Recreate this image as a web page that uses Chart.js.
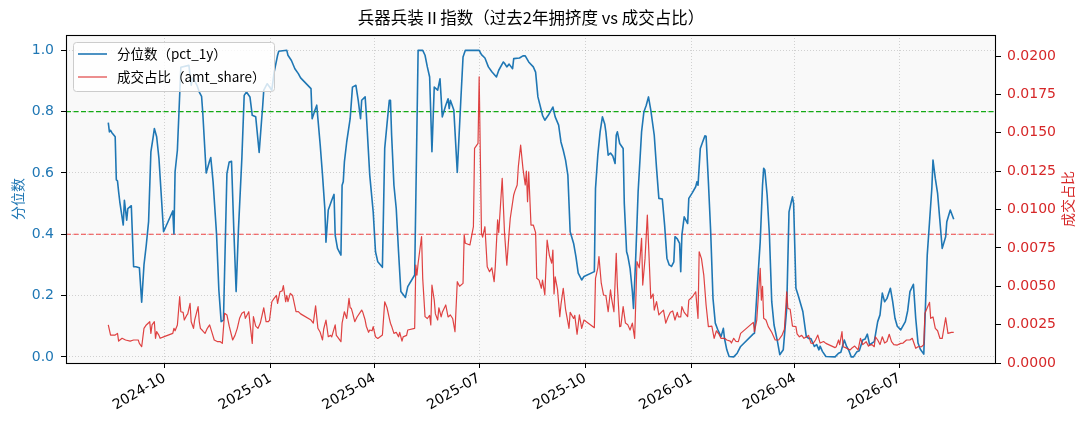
<!DOCTYPE html>
<html><head><meta charset="utf-8">
<script src="https://cdn.jsdelivr.net/npm/chart.js@4.4.1/dist/chart.umd.min.js"></script>
<style>html,body{margin:0;padding:0;background:#fff}#wrap{width:1089px;height:429px}</style>
</head><body><div id="wrap"><canvas id="c" width="1089" height="429"></canvas></div>
<script>
const chartTitle = '兵器兵装Ⅱ指数（过去2年拥挤度 vs 成交占比）';
const pctLabel = '分位数（pct_1y）';
const amtLabel = '成交占比（amt_share）';
const leftAxisTitle = '分位数';
const rightAxisTitle = '成交占比';
const xTickLabels = ['2024-10','2025-01','2025-04','2025-07','2025-10','2026-01','2026-04','2026-07'];
const leftTicks = [0, 0.2, 0.4, 0.6, 0.8, 1.0];
const rightTicks = [0, 0.0025, 0.005, 0.0075, 0.01, 0.0125, 0.015, 0.0175, 0.02];
const thresholdHigh = 0.8;
const thresholdLow = 0.4;

const pctDates = [
'2024-08-13','2024-08-14','2024-08-15','2024-08-16','2024-08-19','2024-08-20','2024-08-21','2024-08-22','2024-08-23','2024-08-26',
'2024-08-27','2024-08-29','2024-08-30','2024-09-02','2024-09-04','2024-09-06','2024-09-09','2024-09-11','2024-09-13','2024-09-15',
'2024-09-17','2024-09-19','2024-09-21','2024-09-22','2024-09-24','2024-09-26','2024-09-30','2024-10-08','2024-10-09','2024-10-10',
'2024-10-12','2024-10-15','2024-10-22','2024-10-24','2024-10-25','2024-10-27','2024-10-29','2024-10-31','2024-11-02','2024-11-03',
'2024-11-06','2024-11-09','2024-11-10','2024-11-12','2024-11-15','2024-11-17','2024-11-19','2024-11-21','2024-11-24','2024-11-26',
'2024-11-28','2024-11-30','2024-12-02','2024-12-04','2024-12-07','2024-12-09','2024-12-11','2024-12-14','2024-12-16','2024-12-19',
'2024-12-22','2024-12-24','2024-12-25','2024-12-26','2024-12-29','2024-12-30','2025-01-02','2025-01-04','2025-01-07','2025-01-08',
'2025-01-15','2025-01-16','2025-01-19','2025-01-22','2025-01-25','2025-01-27','2025-02-05','2025-02-06','2025-02-08','2025-02-10',
'2025-02-11','2025-02-13','2025-02-15','2025-02-17','2025-02-18','2025-02-20','2025-02-23','2025-02-25','2025-02-26','2025-02-28',
'2025-03-03','2025-03-04','2025-03-05','2025-03-06','2025-03-08','2025-03-11','2025-03-13','2025-03-16','2025-03-18','2025-03-20',
'2025-03-21','2025-03-24','2025-03-25','2025-03-28','2025-03-31','2025-04-02','2025-04-04','2025-04-08','2025-04-10','2025-04-12',
'2025-04-14','2025-04-15','2025-04-16','2025-04-18','2025-04-20','2025-04-22','2025-04-24','2025-04-28','2025-04-30','2025-05-06',
'2025-05-09','2025-05-13','2025-05-15','2025-05-17','2025-05-19','2025-05-21','2025-05-23','2025-05-26','2025-05-28','2025-05-30',
'2025-06-02','2025-06-04','2025-06-05','2025-06-06','2025-06-09','2025-06-12','2025-06-15','2025-06-17','2025-06-19','2025-07-01',
'2025-07-03','2025-07-06','2025-07-09','2025-07-12','2025-07-16','2025-07-18','2025-07-22','2025-07-23','2025-07-25','2025-07-27',
'2025-07-30','2025-07-31','2025-08-05','2025-08-08','2025-08-10','2025-08-13','2025-08-17','2025-08-19','2025-08-21','2025-08-25',
'2025-08-27','2025-08-30','2025-09-03','2025-09-05','2025-09-08','2025-09-10','2025-09-12','2025-09-14','2025-09-16','2025-09-18',
'2025-09-21','2025-09-23','2025-09-25','2025-09-28','2025-09-30','2025-10-09','2025-10-10','2025-10-12','2025-10-14','2025-10-16',
'2025-10-18','2025-10-19','2025-10-21','2025-10-23','2025-10-25','2025-10-27','2025-10-28','2025-10-29','2025-10-31','2025-11-03',
'2025-11-04','2025-11-06','2025-11-07','2025-11-09','2025-11-11','2025-11-12','2025-11-14','2025-11-16','2025-11-19','2025-11-21',
'2025-11-23','2025-11-25','2025-11-27','2025-11-30','2025-12-02','2025-12-04','2025-12-07','2025-12-09','2025-12-11','2025-12-13',
'2025-12-15','2025-12-17','2025-12-18','2025-12-20','2025-12-22','2025-12-23','2025-12-24','2025-12-26','2025-12-29','2025-12-30',
'2026-01-02','2026-01-05','2026-01-06','2026-01-07','2026-01-09','2026-01-11','2026-01-13','2026-01-14','2026-01-16','2026-01-18',
'2026-01-20','2026-01-22','2026-01-24','2026-01-27','2026-01-29','2026-01-30','2026-02-01','2026-02-03','2026-02-07','2026-02-10',
'2026-02-13','2026-02-24','2026-02-25','2026-02-27','2026-03-02','2026-03-04','2026-03-05','2026-03-06','2026-03-08','2026-03-10',
'2026-03-12','2026-03-14','2026-03-17','2026-03-19','2026-03-22','2026-03-25','2026-03-27','2026-03-29','2026-03-30','2026-03-31',
'2026-04-02','2026-04-04','2026-04-08','2026-04-11','2026-04-13','2026-04-15','2026-04-18','2026-04-20','2026-04-22','2026-04-23',
'2026-04-25','2026-04-28','2026-05-06','2026-05-09','2026-05-11','2026-05-14','2026-05-16','2026-05-18','2026-05-20','2026-05-22',
'2026-05-25','2026-05-27','2026-05-30','2026-06-01','2026-06-03','2026-06-05','2026-06-07','2026-06-09','2026-06-12','2026-06-14',
'2026-06-16','2026-06-18','2026-06-20','2026-06-23','2026-06-25','2026-06-27','2026-06-29','2026-07-02','2026-07-06','2026-07-08',
'2026-07-10','2026-07-13','2026-07-15','2026-07-17','2026-07-19','2026-07-22','2026-07-25','2026-07-27','2026-07-29','2026-07-30',
'2026-08-01','2026-08-03','2026-08-07','2026-08-10','2026-08-11','2026-08-14','2026-08-17'
];
const pctValues = [
0.764,0.734,0.739,0.732,0.718,0.577,0.574,0.538,0.506,0.430,
0.511,0.446,0.484,0.493,0.294,0.294,0.291,0.178,0.300,0.365,
0.441,0.669,0.718,0.745,0.718,0.647,0.408,0.476,0.401,0.604,
0.674,0.945,0.951,0.886,0.910,0.900,0.886,0.864,0.850,0.799,
0.600,0.640,0.650,0.571,0.400,0.218,0.115,0.120,0.598,0.636,
0.638,0.414,0.213,0.414,0.650,0.853,0.864,0.848,0.788,0.783,
0.667,0.767,0.815,0.870,0.891,0.886,0.870,0.929,0.984,0.997,
1.000,0.984,0.967,0.940,0.924,0.910,0.875,0.777,0.800,0.821,
0.777,0.691,0.593,0.484,0.374,0.479,0.511,0.530,0.397,0.354,
0.332,0.560,0.571,0.636,0.701,0.777,0.880,0.886,0.837,0.777,
0.837,0.848,0.794,0.593,0.473,0.343,0.310,0.292,0.680,0.760,
0.837,0.837,0.723,0.560,0.484,0.343,0.213,0.194,0.229,0.267,
1.000,1.000,0.984,0.946,0.913,0.669,0.880,0.870,0.907,0.783,
0.821,0.842,0.810,0.837,0.805,0.602,0.832,0.978,1.000,1.000,
0.986,0.975,0.946,0.930,0.913,0.935,0.962,0.958,0.946,0.955,
0.940,0.973,0.975,0.982,0.982,0.962,0.946,0.929,0.848,0.788,
0.772,0.788,0.815,0.783,0.756,0.701,0.674,0.642,0.593,0.408,
0.370,0.327,0.273,0.251,0.262,0.278,0.549,0.658,0.734,0.783,
0.760,0.734,0.658,0.665,0.655,0.631,0.723,0.734,0.696,0.680,
0.500,0.343,0.330,0.289,0.213,0.158,0.332,0.538,0.734,0.799,
0.820,0.848,0.805,0.723,0.615,0.517,0.515,0.430,0.322,0.300,
0.295,0.310,0.392,0.385,0.370,0.278,0.397,0.457,0.435,0.517,
0.535,0.555,0.571,0.560,0.680,0.701,0.721,0.720,0.571,0.408,
0.191,0.110,0.090,0.066,0.093,0.060,0.023,0.001,0.000,0.012,
0.034,0.075,0.077,0.200,0.376,0.560,0.615,0.610,0.528,0.397,
0.180,0.104,0.050,0.007,0.023,0.158,0.473,0.506,0.522,0.500,
0.224,0.200,0.148,0.066,0.060,0.060,0.034,0.040,0.023,0.035,
0.018,0.001,0.000,0.012,0.015,0.055,0.034,0.020,0.000,0.000,
0.017,0.020,0.055,0.058,0.074,0.039,0.045,0.050,0.115,0.137,
0.208,0.180,0.190,0.224,0.180,0.126,0.100,0.088,0.115,0.150,
0.213,0.237,0.126,0.045,0.025,0.009,0.332,0.441,0.550,0.642,
0.582,0.533,0.354,0.392,0.441,0.479,0.449
];

const amtDates = [
'2024-08-13','2024-08-15','2024-08-19','2024-08-21','2024-08-22','2024-08-25','2024-08-28','2024-09-01','2024-09-04','2024-09-08',
'2024-09-09','2024-09-11','2024-09-13','2024-09-15','2024-09-18','2024-09-19','2024-09-20','2024-09-22','2024-09-23','2024-09-24',
'2024-09-26','2024-09-27','2024-09-30','2024-10-08','2024-10-09','2024-10-10','2024-10-12','2024-10-14','2024-10-15','2024-10-17',
'2024-10-18','2024-10-20','2024-10-21','2024-10-23','2024-10-24','2024-10-26','2024-10-27','2024-10-30','2024-10-31','2024-11-01',
'2024-11-03','2024-11-05','2024-11-07','2024-11-09','2024-11-11','2024-11-13','2024-11-16','2024-11-18','2024-11-20','2024-11-22',
'2024-11-24','2024-11-26','2024-11-29','2024-12-01','2024-12-03','2024-12-05','2024-12-07','2024-12-09','2024-12-10','2024-12-13',
'2024-12-14','2024-12-16','2024-12-17','2024-12-19','2024-12-21','2024-12-23','2024-12-26','2024-12-28','2024-12-30','2024-12-31',
'2025-01-02','2025-01-04','2025-01-06','2025-01-07','2025-01-09','2025-01-11','2025-01-12','2025-01-14','2025-01-15','2025-01-16',
'2025-01-18','2025-01-20','2025-01-23','2025-01-25','2025-01-27','2025-02-05','2025-02-07','2025-02-09','2025-02-11','2025-02-13',
'2025-02-15','2025-02-16','2025-02-18','2025-02-20','2025-02-22','2025-02-23','2025-02-26','2025-02-27','2025-02-28','2025-03-03',
'2025-03-04','2025-03-06','2025-03-08','2025-03-10','2025-03-11','2025-03-12','2025-03-13','2025-03-15','2025-03-17','2025-03-21',
'2025-03-22','2025-03-24','2025-03-25','2025-03-27','2025-03-28','2025-03-30','2025-03-31','2025-04-02','2025-04-04','2025-04-08',
'2025-04-10','2025-04-12','2025-04-14','2025-04-15','2025-04-16','2025-04-18','2025-04-20','2025-04-22','2025-04-23','2025-04-25',
'2025-04-26','2025-04-29','2025-04-30','2025-05-06','2025-05-07','2025-05-08','2025-05-09','2025-05-12','2025-05-13','2025-05-15',
'2025-05-17','2025-05-19','2025-05-20','2025-05-21','2025-05-23','2025-05-24','2025-05-26','2025-05-27','2025-05-29','2025-05-30',
'2025-06-02','2025-06-04','2025-06-06','2025-06-08','2025-06-10','2025-06-12','2025-06-14','2025-06-17','2025-06-18','2025-06-19',
'2025-06-23','2025-06-26','2025-06-27','2025-06-30','2025-07-01','2025-07-03','2025-07-04','2025-07-06','2025-07-08','2025-07-10',
'2025-07-12','2025-07-14','2025-07-15','2025-07-17','2025-07-18','2025-07-21','2025-07-23','2025-07-25','2025-07-27','2025-07-28',
'2025-07-31','2025-08-01','2025-08-03','2025-08-04','2025-08-06','2025-08-08','2025-08-10','2025-08-11','2025-08-12','2025-08-13',
'2025-08-15','2025-08-17','2025-08-19','2025-08-20','2025-08-22','2025-08-24','2025-08-25','2025-08-27','2025-08-29','2025-08-31',
'2025-09-02','2025-09-03','2025-09-04','2025-09-05','2025-09-07','2025-09-09','2025-09-10','2025-09-12','2025-09-14','2025-09-17',
'2025-09-18','2025-09-21','2025-09-22','2025-09-24','2025-09-26','2025-09-28','2025-09-30','2025-10-09','2025-10-10','2025-10-12',
'2025-10-13','2025-10-15','2025-10-17','2025-10-19','2025-10-21','2025-10-23','2025-10-24','2025-10-26','2025-10-28','2025-10-29',
'2025-10-31','2025-11-01','2025-11-03','2025-11-05','2025-11-07','2025-11-09','2025-11-11','2025-11-13','2025-11-15','2025-11-17',
'2025-11-19','2025-11-20','2025-11-22','2025-11-24','2025-11-25','2025-11-27','2025-11-29','2025-11-30','2025-12-02','2025-12-04',
'2025-12-06','2025-12-08','2025-12-10','2025-12-12','2025-12-14','2025-12-16','2025-12-18','2025-12-20','2025-12-21','2025-12-23',
'2025-12-24','2025-12-26','2025-12-29','2025-12-30','2026-01-02','2026-01-05','2026-01-07','2026-01-08','2026-01-10','2026-01-12',
'2026-01-14','2026-01-16','2026-01-19','2026-01-21','2026-01-23','2026-01-25','2026-01-27','2026-01-30','2026-02-01','2026-02-04',
'2026-02-05','2026-02-07','2026-02-09','2026-02-11','2026-02-13','2026-02-24','2026-02-25','2026-02-27','2026-03-02','2026-03-03',
'2026-03-04','2026-03-05','2026-03-07','2026-03-09','2026-03-12','2026-03-15','2026-03-18','2026-03-21','2026-03-23','2026-03-25',
'2026-03-26','2026-03-28','2026-03-30','2026-04-02','2026-04-03','2026-04-05','2026-04-07','2026-04-09','2026-04-11','2026-04-13',
'2026-04-15','2026-04-17','2026-04-19','2026-04-21','2026-04-23','2026-04-26','2026-04-28','2026-05-06','2026-05-07','2026-05-09',
'2026-05-10','2026-05-12','2026-05-13','2026-05-15','2026-05-19','2026-05-21','2026-05-23','2026-05-26','2026-05-28','2026-05-30',
'2026-06-02','2026-06-04','2026-06-05','2026-06-07','2026-06-09','2026-06-10','2026-06-12','2026-06-14','2026-06-16','2026-06-18',
'2026-06-20','2026-06-22','2026-06-24','2026-06-26','2026-06-29','2026-07-02','2026-07-04','2026-07-07','2026-07-10','2026-07-12',
'2026-07-15','2026-07-17','2026-07-20','2026-07-22','2026-07-23','2026-07-25','2026-07-27','2026-07-28','2026-07-30','2026-08-01',
'2026-08-03','2026-08-05','2026-08-07','2026-08-10','2026-08-12','2026-08-15','2026-08-17'
];
const amtValues = [
0.00248,0.00182,0.00182,0.00193,0.00143,0.00161,0.00150,0.00143,0.00150,0.00150,
0.00128,0.00106,0.00226,0.00248,0.00269,0.00193,0.00248,0.00269,0.00161,0.00204,
0.00180,0.00161,0.00170,0.00193,0.00226,0.00210,0.00248,0.00432,0.00334,0.00330,
0.00280,0.00310,0.00320,0.00389,0.00269,0.00226,0.00280,0.00367,0.00270,0.00226,
0.00210,0.00193,0.00226,0.00248,0.00200,0.00150,0.00139,0.00140,0.00128,0.00324,
0.00313,0.00240,0.00150,0.00180,0.00226,0.00291,0.00324,0.00334,0.00291,0.00334,
0.00260,0.00128,0.00302,0.00240,0.00226,0.00260,0.00360,0.00269,0.00270,0.00280,
0.00399,0.00421,0.00440,0.00389,0.00464,0.00470,0.00504,0.00399,0.00440,0.00400,
0.00454,0.00440,0.00334,0.00335,0.00320,0.00280,0.00260,0.00373,0.00226,0.00200,
0.00150,0.00220,0.00280,0.00171,0.00180,0.00170,0.00248,0.00180,0.00170,0.00139,
0.00260,0.00334,0.00290,0.00421,0.00360,0.00356,0.00330,0.00269,0.00300,0.00345,
0.00330,0.00280,0.00240,0.00200,0.00215,0.00210,0.00237,0.00171,0.00160,0.00182,
0.00399,0.00360,0.00291,0.00259,0.00240,0.00193,0.00200,0.00171,0.00200,0.00143,
0.00170,0.00180,0.00215,0.00226,0.00638,0.00573,0.00650,0.00823,0.00550,0.00302,
0.00290,0.00310,0.00248,0.00508,0.00410,0.00320,0.00280,0.00360,0.00300,0.00330,
0.00378,0.00300,0.00313,0.00290,0.00204,0.00530,0.00500,0.00519,0.00834,0.00780,
0.00769,0.00888,0.01399,0.01431,0.01865,0.00845,0.00820,0.00888,0.00627,0.00595,
0.00620,0.00530,0.00630,0.00932,0.00850,0.01203,0.00850,0.00638,0.00850,0.00943,
0.01095,0.01120,0.01160,0.01279,0.01420,0.01268,0.01160,0.01250,0.01051,0.01246,
0.00899,0.00899,0.00850,0.00552,0.00540,0.00487,0.00540,0.00443,0.00801,0.00700,
0.00650,0.00736,0.00450,0.00562,0.00480,0.00302,0.00380,0.00487,0.00350,0.00226,
0.00330,0.00290,0.00310,0.00187,0.00313,0.00226,0.00280,0.00230,0.00552,0.00620,
0.00693,0.00520,0.00443,0.00440,0.00334,0.00476,0.00420,0.00334,0.00715,0.00500,
0.00237,0.00240,0.00367,0.00260,0.00250,0.00215,0.00260,0.00161,0.00660,0.00620,
0.00812,0.00508,0.00680,0.00964,0.00780,0.00421,0.00450,0.00345,0.00400,0.00313,
0.00330,0.00345,0.00260,0.00300,0.00330,0.00339,0.00280,0.00330,0.00300,0.00300,
0.00367,0.00330,0.00302,0.00410,0.00430,0.00464,0.00291,0.00725,0.00680,0.00573,
0.00378,0.00237,0.00240,0.00161,0.00210,0.00190,0.00160,0.00161,0.00150,0.00143,
0.00130,0.00161,0.00140,0.00139,0.00193,0.00265,0.00204,0.00280,0.00617,0.00410,
0.00500,0.00291,0.00280,0.00237,0.00200,0.00150,0.00150,0.00182,0.00220,0.00464,
0.00356,0.00350,0.00240,0.00237,0.00190,0.00171,0.00180,0.00161,0.00170,0.00180,
0.00130,0.00128,0.00150,0.00182,0.00130,0.00140,0.00128,0.00100,0.00106,0.00150,
0.00120,0.00204,0.00106,0.00100,0.00085,0.00100,0.00110,0.00085,0.00161,0.00120,
0.00139,0.00110,0.00117,0.00120,0.00106,0.00171,0.00150,0.00120,0.00171,0.00130,
0.00140,0.00187,0.00139,0.00120,0.00117,0.00128,0.00130,0.00150,0.00150,0.00161,
0.00096,0.00106,0.00106,0.00120,0.00324,0.00360,0.00395,0.00291,0.00300,0.00226,
0.00210,0.00161,0.00160,0.00295,0.00193,0.00200,0.00200
];

const DAY = 86400000;
const toDay = s => Date.UTC(+s.slice(0,4), +s.slice(5,7) - 1, +s.slice(8,10)) / DAY;
const firstDay = Math.min(toDay(pctDates[0]), toDay(amtDates[0]));
const lastDay = Math.max(toDay(pctDates[pctDates.length-1]), toDay(amtDates[amtDates.length-1]));
const span = lastDay - firstDay;
const xMin = firstDay - 0.05 * span, xMax = lastDay + 0.05 * span;
const xTickVals = xTickLabels.map(l => toDay(l + '-01'));
const amtMax = Math.max(...amtValues);

const pctPoints = pctDates.map((d, i) => ({x: toDay(d), y: pctValues[i]}));
const amtPoints = amtDates.map((d, i) => ({x: toDay(d), y: amtValues[i]}));

const BLUE = '#1f77b4', RED = '#d62728';
const tickFont = {family: 'DejaVu Sans', size: 14};
const CJK = '"Noto Sans CJK SC", "Noto Sans", sans-serif';
const gridColor = 'rgba(0,0,0,0.16)';

const decor = {
  id: 'decor',
  beforeDraw(chart) {
    const {ctx, chartArea: a} = chart;
    ctx.save();
    ctx.fillStyle = '#f9f9f9';
    ctx.fillRect(a.left, a.top, a.right - a.left, a.bottom - a.top);
    ctx.restore();
  },
  afterDraw(chart) {
    const {ctx, chartArea: a} = chart;
    ctx.save();
    ctx.strokeStyle = '#000'; ctx.lineWidth = 1.1;
    ctx.strokeRect(Math.round(a.left) + 0.5, Math.round(a.top) + 0.5, Math.round(a.right - a.left) - 1, Math.round(a.bottom - a.top));
    ctx.fillStyle = '#000';
    ctx.font = '16.5px ' + CJK;
    ctx.textAlign = 'center'; ctx.textBaseline = 'middle';
    ctx.fillText(chartTitle, (a.left + a.right) / 2, 18);
    const midY = (a.top + a.bottom) / 2;
    ctx.font = '14px ' + CJK;
    ctx.save(); ctx.translate(18, midY); ctx.rotate(-Math.PI / 2);
    ctx.fillStyle = BLUE; ctx.fillText(leftAxisTitle, 0, 0); ctx.restore();
    ctx.save(); ctx.translate(1068, midY); ctx.rotate(-Math.PI / 2);
    ctx.fillStyle = RED; ctx.fillText(rightAxisTitle, 0, 0); ctx.restore();
    const lx = a.left + 7, ly = a.top + 7, lw = 201, lh = 49;
    ctx.beginPath();
    if (ctx.roundRect) ctx.roundRect(lx + 0.5, ly + 0.5, lw, lh, 3); else ctx.rect(lx + 0.5, ly + 0.5, lw, lh);
    ctx.fillStyle = 'rgba(255,255,255,0.8)'; ctx.fill();
    ctx.strokeStyle = '#cccccc'; ctx.lineWidth = 1; ctx.stroke();
    const items = [[pctLabel, BLUE, 1.6], [amtLabel, 'rgba(220,45,45,0.9)', 1.2]];
    ctx.font = '13.5px ' + CJK; ctx.textAlign = 'left'; ctx.textBaseline = 'middle';
    items.forEach((it, i) => {
      const y = ly + 12 + i * 23;
      ctx.strokeStyle = it[1]; ctx.lineWidth = it[2];
      ctx.beginPath(); ctx.moveTo(lx + 5, y); ctx.lineTo(lx + 34, y); ctx.stroke();
      ctx.fillStyle = '#000'; ctx.fillText(it[0], lx + 44, y);
    });
    ctx.restore();
  }
};

new Chart(document.getElementById('c'), {
  type: 'line',
  data: {
    datasets: [
      {label: amtLabel, data: amtPoints, yAxisID: 'y2', borderColor: 'rgba(220,45,45,0.9)', borderWidth: 1.2, pointRadius: 0, tension: 0, order: 0, borderJoinStyle: 'round'},
      {label: pctLabel, data: pctPoints, yAxisID: 'y', borderColor: BLUE, borderWidth: 1.6, pointRadius: 0, tension: 0, order: 1, borderJoinStyle: 'round'},
      {label: 'high', data: [{x: xMin, y: thresholdHigh}, {x: xMax, y: thresholdHigh}], yAxisID: 'y', borderColor: 'rgb(20,170,20)', borderWidth: 1.2, borderDash: [5, 2.5], pointRadius: 0, order: 2},
      {label: 'low', data: [{x: xMin, y: thresholdLow}, {x: xMax, y: thresholdLow}], yAxisID: 'y', borderColor: 'rgb(240,70,70)', borderWidth: 1.1, borderDash: [5, 2.5], pointRadius: 0, order: 2}
    ]
  },
  options: {
    responsive: false,
    animation: false,
    events: [],
    layout: {padding: {top: 35, left: 0, right: 0, bottom: 0}},
    plugins: {legend: {display: false}, tooltip: {enabled: false}, title: {display: false}},
    scales: {
      x: {
        type: 'linear', position: 'bottom', min: xMin, max: xMax,
        afterBuildTicks: s => { s.ticks = xTickVals.map(v => ({value: v})); },
        afterFit: s => { s.height = 66; },
        ticks: {
          autoSkip: false, minRotation: 30, maxRotation: 30, padding: 2, color: '#000', font: tickFont,
          callback: v => { const i = xTickVals.indexOf(v); return i >= 0 ? xTickLabels[i] : ''; }
        },
        grid: {color: gridColor, lineWidth: 1, tickColor: '#000', tickLength: 5, tickWidth: 1, tickBorderDash: [], borderDash: [1, 2]},
        border: {display: false, dash: [1, 2]}
      },
      y: {
        position: 'left', min: -0.02, max: 1.05,
        afterBuildTicks: s => { s.ticks = leftTicks.map(v => ({value: v})); },
        afterFit: s => { s.width = 66; },
        ticks: {color: BLUE, font: tickFont, padding: 7, callback: v => v.toFixed(1)},
        grid: {color: gridColor, lineWidth: 1, tickColor: '#000', tickLength: 5, tickWidth: 1, tickBorderDash: [], borderDash: [1, 2]},
        border: {display: false, dash: [1, 2]}
      },
      y2: {
        position: 'right', min: 0, max: amtMax * 1.146,
        afterBuildTicks: s => { s.ticks = rightTicks.map(v => ({value: v})); },
        afterFit: s => { s.width = 93; },
        ticks: {color: RED, font: tickFont, padding: 6, callback: v => v.toFixed(4)},
        grid: {drawOnChartArea: false, tickColor: '#000', tickLength: 5, tickWidth: 1},
        border: {display: false}
      }
    }
  },
  plugins: [decor]
});
</script>
</body></html>
